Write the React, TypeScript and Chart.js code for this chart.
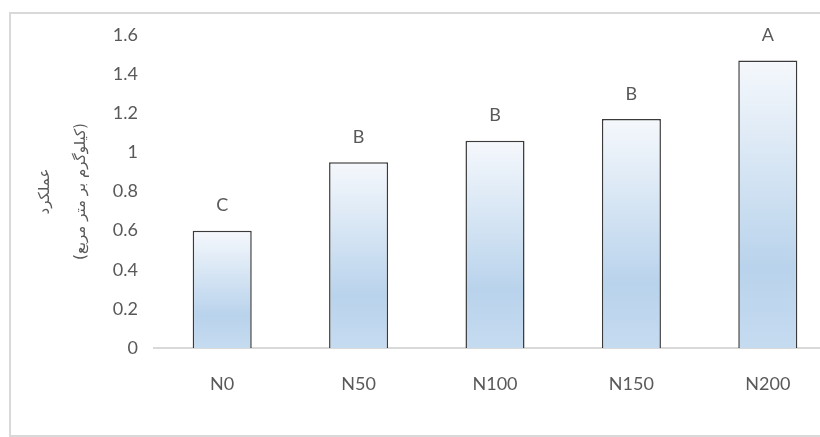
import React, { useEffect, useRef } from "react";
import { Chart, registerables } from "chart.js";

Chart.register(...registerables);

// Nitrogen treatments and mean yield per treatment
const categories = ["N0", "N50", "N100", "N150", "N200"];
const yieldValues = [0.6, 0.95, 1.06, 1.17, 1.47];
const groupLetters = ["C", "B", "B", "B", "A"];
const yTickLabels = ["0", "0.2", "0.4", "0.6", "0.8", "1", "1.2", "1.4", "1.6"];
const yTitleLines = ["عملکرد", "(کیلوگرم بر متر مربع)"];

const TEXT = "#595959";
const TICK_FONT = { family: "Lato, 'Open Sans', sans-serif", size: 18 };

// Letters of mean-separation groups drawn above each bar
const letterPlugin = {
  id: "groupLetters",
  afterDatasetsDraw(chart: any) {
    const ctx = chart.ctx;
    const meta = chart.getDatasetMeta(0);
    ctx.save();
    ctx.fillStyle = TEXT;
    ctx.font = `${TICK_FONT.size}px ${TICK_FONT.family}`;
    ctx.textAlign = "center";
    ctx.textBaseline = "middle";
    meta.data.forEach((bar: any, i: number) => {
      ctx.fillText(groupLetters[i], bar.x, bar.y - 25);
    });
    ctx.restore();
  },
};

function barGradient(context: any) {
  const chart = context.chart;
  const yScale = chart.scales?.y;
  const raw = context.raw;
  if (!yScale || typeof raw !== "number" || !chart.chartArea) return "#c9ddf1";
  const top = yScale.getPixelForValue(raw);
  const bottom = yScale.getPixelForValue(0);
  if (!isFinite(top) || !isFinite(bottom) || bottom - top < 1) return "#c9ddf1";
  const g = chart.ctx.createLinearGradient(0, top, 0, bottom);
  g.addColorStop(0, "#f5f8fc");
  g.addColorStop(0.72, "#b9d3ec");
  g.addColorStop(1, "#c5dbf0");
  return g;
}

export default function App() {
  const canvasRef = useRef<HTMLCanvasElement | null>(null);

  useEffect(() => {
    if (!canvasRef.current) return;
    const chart = new Chart(canvasRef.current, {
      type: "bar",
      data: {
        labels: categories,
        datasets: [
          {
            data: yieldValues,
            backgroundColor: barGradient,
            borderColor: "#3a3a3a",
            borderWidth: 1.5,
            categoryPercentage: 1,
            barPercentage: 0.433,
          },
        ],
      },
      options: {
        animation: false,
        responsive: false,
        maintainAspectRatio: false,
        layout: { padding: { top: 35, right: 4, bottom: 0, left: 0 } },
        plugins: {
          legend: { display: false },
          tooltip: { enabled: false },
        },
        scales: {
          x: {
            grid: { display: false, drawTicks: false },
            border: { display: true, color: "#d9d9d9", width: 2 },
            ticks: { color: TEXT, font: TICK_FONT, padding: 25 },
            afterFit(scale: any) {
              scale.height = 89;
            },
          },
          y: {
            min: 0,
            max: 1.6,
            grid: { display: false, drawTicks: false },
            border: { display: false },
            ticks: {
              stepSize: 0.2,
              color: TEXT,
              font: TICK_FONT,
              padding: 16,
              callback: (_v: any, i: number) => yTickLabels[i],
            },
            title: {
              display: true,
              text: yTitleLines,
              color: TEXT,
              font: { family: "'DejaVu Sans', sans-serif", size: 15, lineHeight: 2.4 },
              padding: { top: 27, bottom: 0 },
            },
            afterFit(scale: any) {
              scale.width = 154;
            },
          },
        },
      },
      plugins: [letterPlugin],
    });
    return () => chart.destroy();
  }, []);

  return (
    <div
      style={{
        position: "absolute",
        left: 0,
        top: 0,
        width: 820,
        height: 437,
        overflow: "hidden",
        background: "#ffffff",
      }}
    >
      <div
        style={{
          position: "absolute",
          left: 9,
          top: 12,
          width: 840,
          height: 421,
          border: "2px solid #d9d9d9",
        }}
      />
      <canvas
        ref={canvasRef}
        width={840}
        height={437}
        style={{ position: "absolute", left: 0, top: 0, width: 840, height: 437 }}
      />
    </div>
  );
}
